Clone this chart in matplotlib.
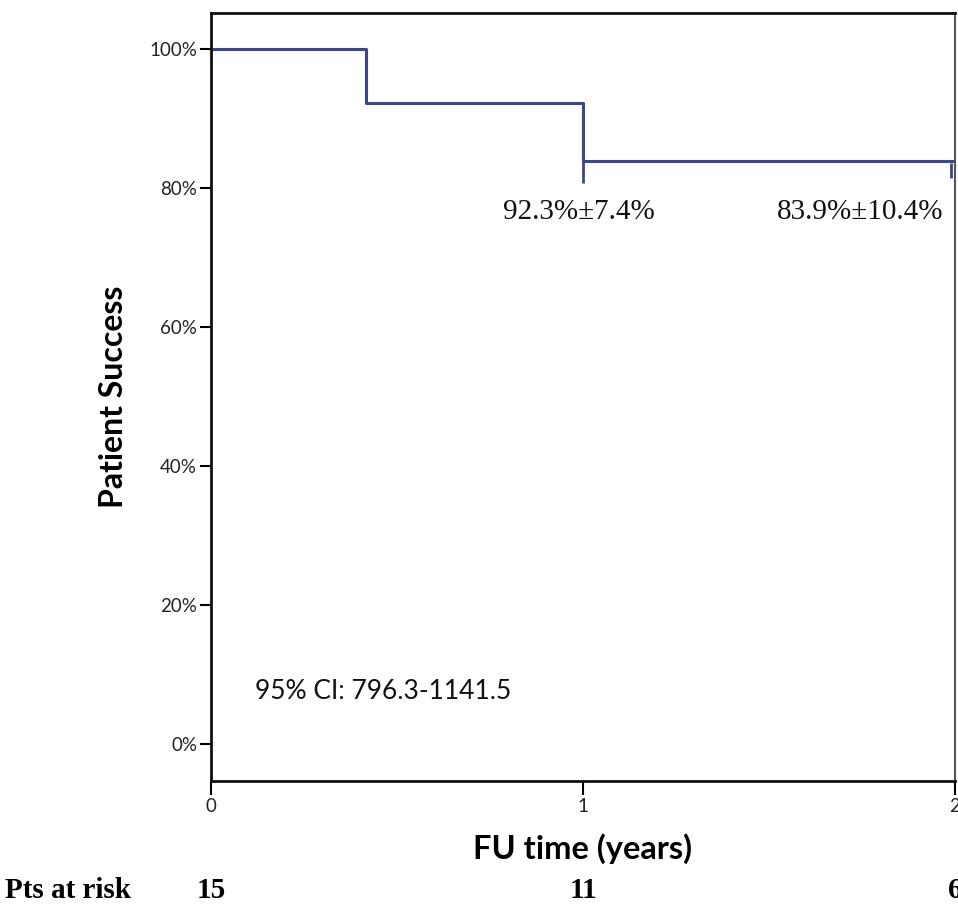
import matplotlib
matplotlib.use("Agg")
import matplotlib.pyplot as plt
import matplotlib.transforms as mtransforms
from matplotlib.ticker import PercentFormatter

# Kaplan-Meier step data (years, survival)
times = [0.0, 0.417, 1.0, 2.0]
survival = [1.0, 0.923, 0.839, 0.839]

# censored observations
censor_times = [1.0, 1.99]
censor_top = [0.839, 0.836]
censor_bottom = [0.807, 0.815]

# annotations
annot_x = [0.99, 1.745]
annot_y = [0.766, 0.766]
annot_text = ["92.3%\u00b17.4%", "83.9%\u00b110.4%"]

# numbers at risk
risk_times = [0, 1, 2]
risk_counts = [15, 11, 6]

y_ticks = [0, 0.2, 0.4, 0.6, 0.8, 1.0]
x_ticks = [0, 1, 2]

line_color = "#3d4688"
sans = "Lato"
serif = "Liberation Serif"

fig = plt.figure(figsize=(9.58, 9.05), dpi=100)
ax = fig.add_axes([211 / 958, 124 / 905, 744 / 958, 768 / 905])

ax.step(times, survival, where="post", color=line_color, lw=2.2)
ax.vlines(censor_times, censor_bottom, censor_top, color=line_color, lw=2)

for x, y, t in zip(annot_x, annot_y, annot_text):
    ax.text(x, y, t, ha="center", va="center", fontsize=21,
            family=serif, color="#111111")

ax.text(0.118, 0.075, "95% CI: 796.3-1141.5", ha="left", va="center",
        fontsize=19, family=sans, color="#111111")

ax.set_xlim(0, 2.0)
ax.set_ylim(-0.0532, 1.0518)
ax.set_yticks(y_ticks)
ax.yaxis.set_major_formatter(PercentFormatter(1.0, decimals=0))
ax.set_xticks(x_ticks)

for lab in ax.get_yticklabels() + ax.get_xticklabels():
    lab.set_family(sans)
    lab.set_fontsize(13.5)
    lab.set_color("#222222")

ax.tick_params(axis="y", direction="out", length=8, width=1.5, pad=2)
ax.tick_params(axis="x", direction="out", length=10, width=1.5, pad=2)

for side in ["left", "bottom", "top"]:
    ax.spines[side].set_linewidth(2)
    ax.spines[side].set_color("#111111")
ax.spines["right"].set_linewidth(1.5)
ax.spines["right"].set_color("#555555")

ax.set_ylabel("Patient Success", fontsize=23, fontweight="bold",
              family=sans, labelpad=15)
ax.set_xlabel("FU time (years)", fontsize=23.5, fontweight="bold",
              family=sans, labelpad=13)

# numbers at risk row
trans = mtransforms.blended_transform_factory(ax.transData, fig.transFigure)
fig.text(5 / 958, 1 - 890 / 905, "Pts at risk", ha="left", va="center",
         fontsize=21, fontweight="bold", family=serif)
for t, n in zip(risk_times, risk_counts):
    fig.text(t, 1 - 890 / 905, str(n), ha="center", va="center",
             fontsize=21, fontweight="bold", family=serif, transform=trans)

fig.savefig("out.png", dpi=100)
